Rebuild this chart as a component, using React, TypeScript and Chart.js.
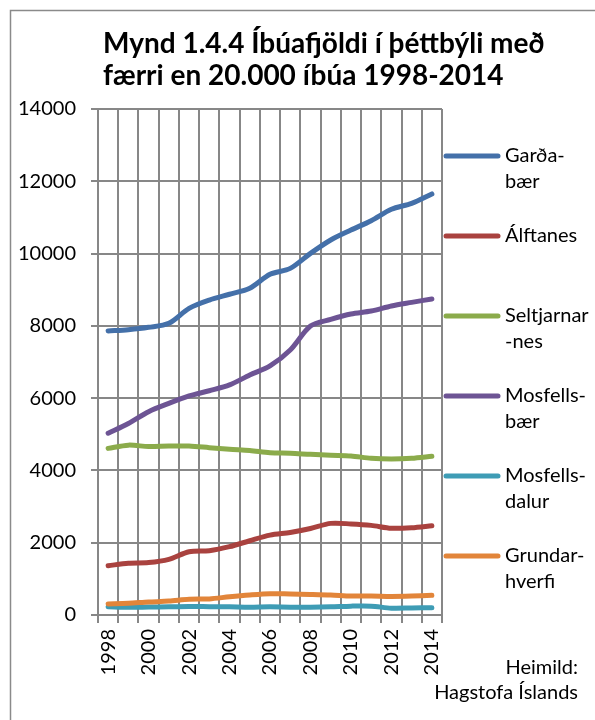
import React, { useEffect, useRef } from "react";
import { Chart, registerables } from "chart.js";

Chart.register(...registerables);

const years = ["1998","1999","2000","2001","2002","2003","2004","2005","2006","2007","2008","2009","2010","2011","2012","2013","2014"];

const gardabaer = [7860, 7895, 7960, 8070, 8485, 8715, 8875, 9040, 9425, 9590, 10005, 10375, 10650, 10910, 11225, 11390, 11650];
const alftanes = [1365, 1430, 1450, 1540, 1750, 1780, 1890, 2055, 2210, 2285, 2395, 2535, 2520, 2480, 2400, 2415, 2470];
const seltjarnarnes = [4610, 4700, 4660, 4675, 4675, 4630, 4585, 4550, 4490, 4475, 4445, 4420, 4400, 4335, 4315, 4335, 4390];
const mosfellsbaer = [5030, 5300, 5625, 5855, 6060, 6205, 6365, 6640, 6890, 7330, 7995, 8180, 8330, 8410, 8550, 8650, 8745];
const mosfellsdalur = [230, 215, 220, 225, 235, 230, 225, 215, 225, 215, 215, 225, 245, 245, 190, 195, 200];
const grundarhverfi = [305, 325, 360, 385, 435, 445, 505, 555, 590, 580, 570, 555, 525, 525, 515, 525, 545];

const seriesNames = [["Garða-", "bær"], ["Álftanes"], ["Seltjarnar", "-nes"], ["Mosfells-", "bær"], ["Mosfells-", "dalur"], ["Grundar-", "hverfi"]];
const seriesValues = [gardabaer, alftanes, seltjarnarnes, mosfellsbaer, mosfellsdalur, grundarhverfi];
const seriesColors = ["#4470A9", "#A9423F", "#8BAB4B", "#6D5494", "#3E9CB5", "#E2853A"];

const titleLines = ["Mynd 1.4.4 Íbúafjöldi í þéttbýli með", "færri en 20.000 íbúa 1998-2014"];
const sourceLines = ["Heimild:", "Hagstofa Íslands"];

const FONT = "Lato, 'Open Sans', sans-serif";
const GRID = "#878787";

const decorPlugin = {
  id: "decor",
  beforeDraw(chart: any) {
    const ctx = chart.ctx;
    ctx.save();
    ctx.fillStyle = "#ffffff";
    ctx.fillRect(0, 0, chart.width, chart.height);
    ctx.strokeStyle = "#8A8A8A";
    ctx.lineWidth = 1.5;
    ctx.strokeRect(10.5, 10.5, chart.width + 20, chart.height + 20);
    ctx.restore();
  },
  afterDraw(chart: any) {
    const ctx = chart.ctx;
    ctx.save();
    // title
    ctx.fillStyle = "#000000";
    ctx.font = `bold 28px ${FONT}`;
    ctx.textAlign = "left";
    ctx.textBaseline = "middle";
    titleLines.forEach((t, i) => ctx.fillText(t, 103, 44 + i * 32));
    // legend
    const x0 = chart.chartArea.right + 2;
    ctx.font = `20px ${FONT}`;
    seriesNames.forEach((lines, i) => {
      const y = 156 + i * 80;
      ctx.strokeStyle = seriesColors[i];
      ctx.lineWidth = 5;
      ctx.lineCap = "round";
      ctx.beginPath();
      ctx.moveTo(x0 + 2, y);
      ctx.lineTo(x0 + 54, y);
      ctx.stroke();
      ctx.fillStyle = "#000000";
      ctx.textAlign = "left";
      lines.forEach((l, j) => ctx.fillText(l, x0 + 61, y + j * 26));
    });
    // source
    ctx.textAlign = "right";
    sourceLines.forEach((l, j) => ctx.fillText(l, 578, 668 + j * 25));
    ctx.restore();
  },
};

export default function App() {
  const ref = useRef<HTMLCanvasElement | null>(null);
  useEffect(() => {
    if (!ref.current) return;
    const n = seriesValues.length;
    const chart = new Chart(ref.current, {
      type: "line",
      data: {
        labels: years,
        datasets: seriesValues.map((vals, i) => ({
          label: seriesNames[i].join(""),
          data: vals,
          borderColor: seriesColors[i],
          backgroundColor: seriesColors[i],
          borderWidth: 5,
          pointRadius: 0,
          tension: 0.3,
          borderCapStyle: "round",
          borderJoinStyle: "round",
          fill: false,
          order: n - i,
        })),
      },
      options: {
        animation: false,
        responsive: false,
        layout: { padding: { top: 109, right: 153, bottom: 0, left: 0 } },
        plugins: { legend: { display: false }, title: { display: false }, tooltip: { enabled: false } },
        scales: {
          x: {
            type: "category",
            offset: true,
            grid: { offset: true, color: GRID, lineWidth: 2, tickLength: 8, drawTicks: true },
            border: { display: true, color: GRID, width: 2 },
            ticks: {
              autoSkip: false,
              maxRotation: 90,
              minRotation: 90,
              padding: 6,
              color: "#000000",
              font: { family: FONT, size: 20 },
              callback: (_v: any, i: number) => (i % 2 === 0 ? years[i] : ""),
            },
            afterFit: (s: any) => { s.height = 105; },
          },
          y: {
            min: 0,
            max: 14000,
            grid: { color: GRID, lineWidth: 2, tickLength: 7, drawTicks: true },
            border: { display: true, color: GRID, width: 2 },
            ticks: {
              stepSize: 2000,
              padding: 15,
              color: "#000000",
              font: { family: FONT, size: 20 },
              callback: (v: any) => String(v),
            },
            afterFit: (s: any) => { s.width = 98; },
          },
        },
      },
      plugins: [decorPlugin],
    } as any);
    return () => chart.destroy();
  }, []);
  return (
    <div style={{ position: "absolute", left: 0, top: 0, width: 595, height: 720, background: "#fff" }}>
      <canvas ref={ref} width={595} height={720} style={{ width: 595, height: 720, display: "block" }} />
    </div>
  );
}
